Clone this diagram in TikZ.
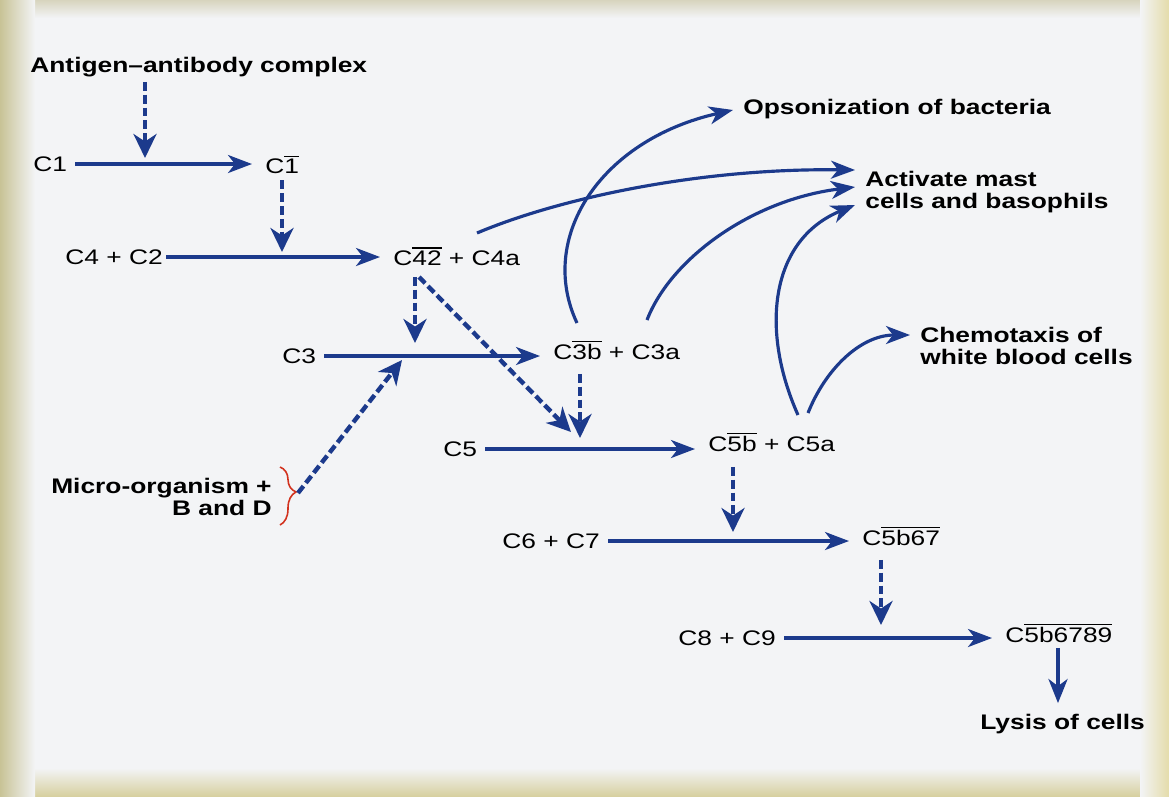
\documentclass[tikz,border=0pt]{standalone}
\usepackage{fontspec}
\setmainfont{Liberation Sans}[FakeStretch=1.25]
\usetikzlibrary{arrows.meta,decorations.pathreplacing,calc}
\definecolor{cblue}{RGB}{28,58,140}
\definecolor{page}{RGB}{243,244,246}
\definecolor{edgeL}{RGB}{200,195,150}
\definecolor{edgeR}{RGB}{228,220,170}
\definecolor{edgeT}{RGB}{215,212,190}
\definecolor{edgeB}{RGB}{215,208,160}
\definecolor{bracered}{RGB}{210,50,30}
\newcommand\myobar[1]{\leavevmode\vbox{\hrule height 0.7pt\kern 1.3pt\hbox{#1}}}
\begin{document}
\begin{tikzpicture}[x=0.02cm,y=-0.02cm,font=\fontsize{12}{13}\selectfont,
  lab/.style={inner sep=0pt,text height=8.6pt,text depth=0pt,anchor=west},
  blab/.style={lab,font=\fontsize{12}{13}\selectfont\bfseries},
  mlab/.style={inner sep=0pt,anchor=west,align=left,font=\fontsize{12}{13}\selectfont\bfseries},
  harrow/.style={draw=cblue,line width=1.9pt,-{Stealth[length=4.8mm,width=3.6mm,inset=1.4mm]},shorten <=0.16cm,shorten >=0.26cm},
  varrow/.style={draw=cblue,line width=2.2pt,-{Stealth[length=4.8mm,width=3.8mm,inset=1.4mm]}},
  darrow/.style={draw=cblue,line width=2.5pt,dash pattern=on 5pt off 2.3pt,-{Stealth[length=4.8mm,width=4.6mm,inset=1.5mm]}},
  carrow/.style={draw=cblue,line width=1.8pt,-{Stealth[length=4.8mm,width=3.6mm,inset=1.4mm]}}]
\useasboundingbox (0,0) rectangle (1169,796);
\fill[page] (0,0) rectangle (1169,796);
\shade[top color=edgeT,bottom color=page] (0,0) rectangle (1169,18);
\shade[top color=page,bottom color=edgeB] (0,768) rectangle (1169,796);
\shade[left color=edgeL,right color=page] (0,0) rectangle (35,796);
\shade[left color=page,right color=edgeR] (1140,0) rectangle (1169,796);

% nodes
\node[blab] (ag) at (30,65) {Antigen–antibody complex};
\node[lab] (c1) at (33,164) {C1};
\node[lab] (c1b) at (265,166) {C\myobar{1}};
\node[lab] (c42) at (65,257) {C4 + C2};
\node[lab] (c42b) at (393,258) {C\myobar{42} + C4a};
\node[lab] (c3) at (282,356) {C3};
\node[lab] (c3b) at (553,352) {C\myobar{3b} + C3a};
\node[mlab,anchor=east,align=right] (mic) at (272,497) {Micro-organism +\\B and D};
\node[lab] (c5) at (443,449) {C5};
\node[lab] (c5b) at (708,444) {C\myobar{5b} + C5a};
\node[lab] (c67) at (502,541) {C6 + C7};
\node[lab] (c5b67) at (862,538) {C\myobar{5b67}};
\node[lab] (c89) at (678,638) {C8 + C9};
\node[lab] (c5b6789) at (1005,635) {C\myobar{5b6789}};
\node[blab] (lys) at (980,722) {Lysis of cells};
\node[blab] (ops) at (743,107) {Opsonization of bacteria};
\node[mlab] (mast) at (865,192) {Activate mast\\cells and basophils};
\node[mlab] (chemo) at (920,346) {Chemotaxis of\\white blood cells};

% brace
\draw[bracered,line width=0.9pt,decorate,decoration={brace,amplitude=0.32cm,aspect=0.43}] (280,467) -- (280,525);
\coordinate (bt) at (298,493);

% horizontal reactions
\draw[harrow] (c1.east) -- (c1.east -| c1b.west);
\draw[harrow,shorten <=0.06cm] (c42.east) -- (c42.east -| c42b.west);
\draw[harrow] (c3.east) -- (c3.east -| c3b.west);
\draw[harrow] (c5.east) -- (c5.east -| c5b.west);
\draw[harrow] (c67.east) -- (c67.east -| c5b67.west);
\draw[harrow] (c89.east) -- (c89.east -| c5b6789.west);

% dashed activations
\coordinate (t1) at (145,158);
\draw[darrow,shorten <=0.18cm] (t1 |- ag.south) -- (t1);
\coordinate (t2) at (282,252);
\draw[darrow,shorten <=0.13cm] (t2 |- c1b.south) -- (t2);
\coordinate (t3) at (415,343);
\draw[darrow,shorten <=0.22cm] (t3 |- c42b.south) -- (t3);
\coordinate (s4) at (419,277);
\coordinate (t4) at (571,432);
\draw[darrow] (s4) -- (t4);
\coordinate (t5) at (580,438);
\draw[darrow,shorten <=0.28cm] (t5 |- c3b.south) -- (t5);
\coordinate (t6) at (402,360);
\draw[darrow] (bt) -- (t6);
\coordinate (t7) at (733,532);
\draw[darrow,shorten <=0.3cm] (t7 |- c5b.south) -- (t7);
\coordinate (t8) at (881,625);
\draw[darrow,shorten <=0.28cm] (t8 |- c5b67.south) -- (t8);

% lysis
\coordinate (vx) at (1058,0);
\draw[varrow,shorten <=0.1cm,shorten >=0.22cm] (vx |- c5b6789.south) -- (vx |- lys.north);

% effect curves
\coordinate (k1s) at (477,233);
\coordinate (k1e) at (855,170);
\draw[carrow] (k1s) .. controls (560,198) and (700,168) .. (k1e);
\coordinate (k2s) at (577,323);
\coordinate (k2e) at (733,110);
\draw[carrow] (k2s) .. controls (537,238) and (600,140) .. (k2e);
\coordinate (k3s) at (647,320);
\coordinate (k3e) at (855,187);
\draw[carrow] (k3s) .. controls (670,260) and (750,200) .. (k3e);
\coordinate (k4s) at (798,415);
\coordinate (k4e) at (855,205);
\draw[carrow] (k4s) .. controls (760,330) and (770,240) .. (k4e);
\coordinate (k5s) at (808,413);
\coordinate (k5e) at (910,335);
\draw[carrow] (k5s) .. controls (825,370) and (860,335) .. (k5e);
\end{tikzpicture}
\end{document}
